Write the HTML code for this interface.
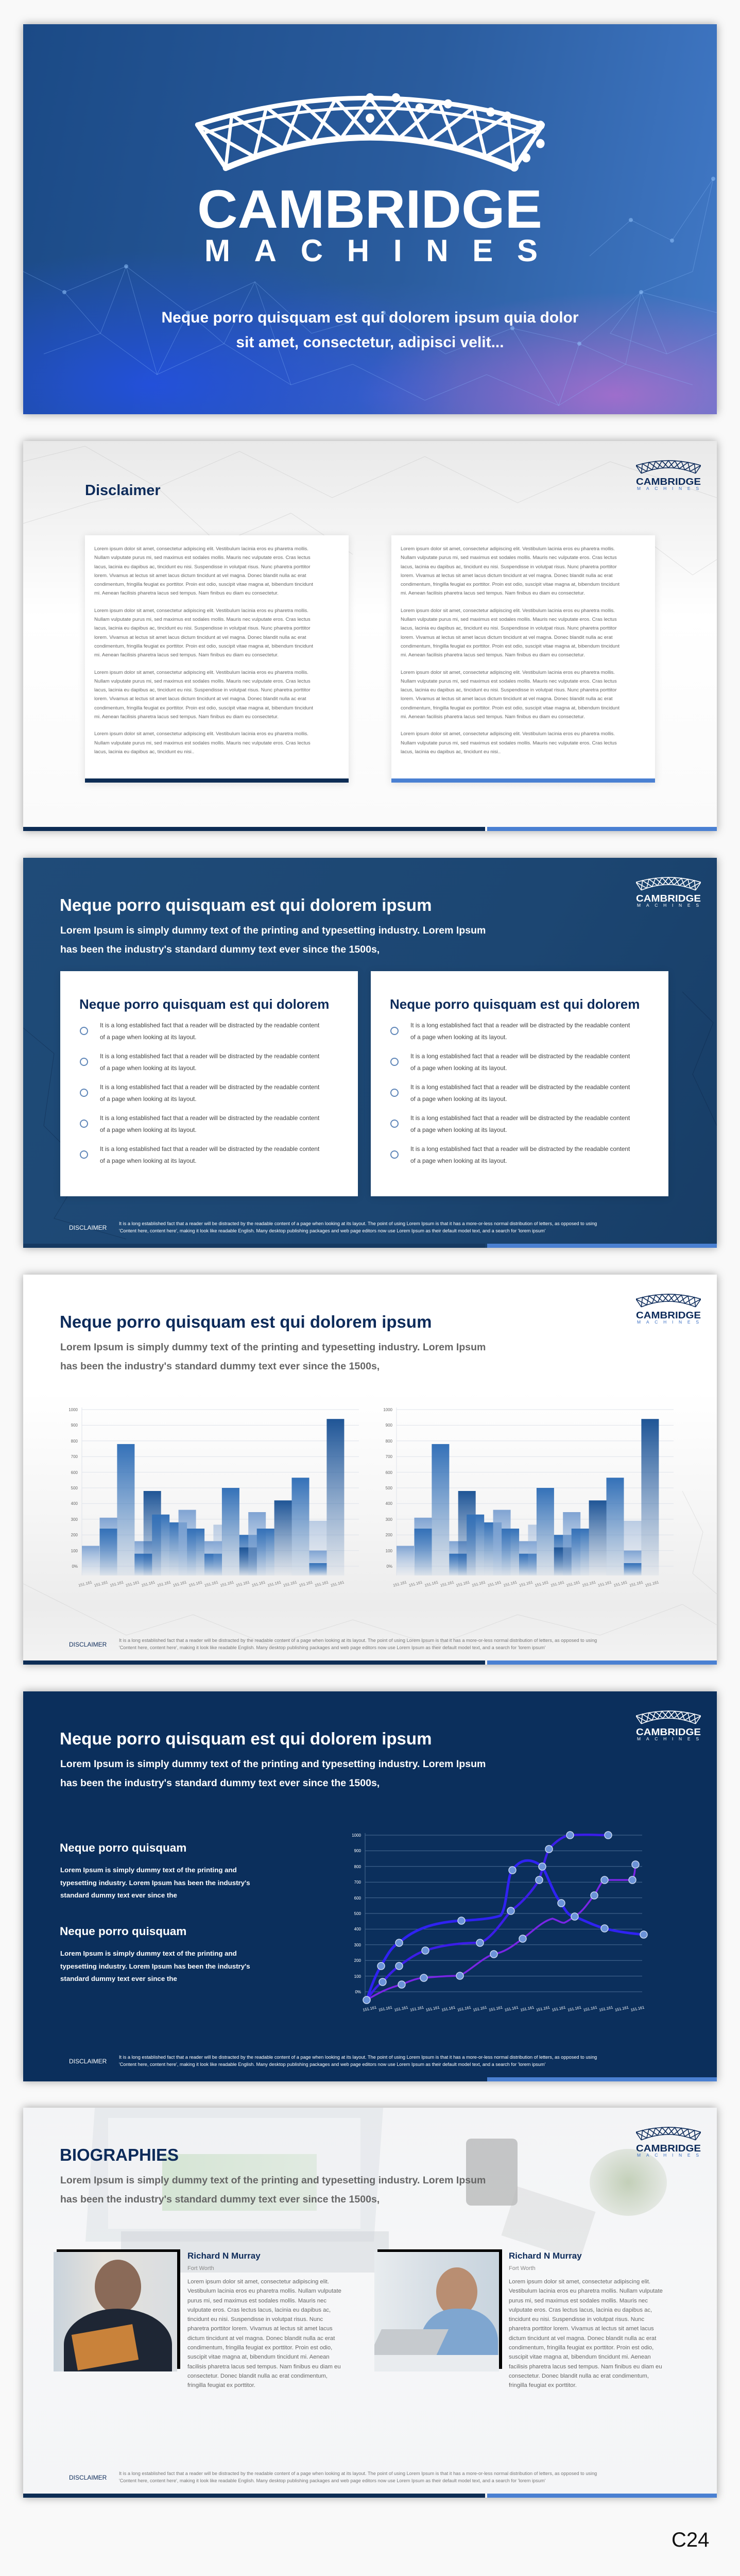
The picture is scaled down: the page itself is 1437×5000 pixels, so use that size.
<!DOCTYPE html>
<html><head><meta charset="utf-8">
<style>
*{margin:0;padding:0;box-sizing:border-box}
body{width:1437px;height:5000px;background:#f9f9f9;position:relative;font-family:"Liberation Sans",sans-serif;overflow:hidden}
.s{position:absolute;left:45px;width:1347px;height:757px;overflow:hidden;box-shadow:0 0 16px rgba(0,0,0,.35)}
.abs{position:absolute}
.nw{white-space:nowrap}
.title{position:absolute;left:71px;top:73px;font-size:33px;font-weight:bold;white-space:nowrap}
.sub{position:absolute;left:72px;top:123px;font-size:19.5px;font-weight:bold;line-height:37px;white-space:nowrap}
.disc{position:absolute;left:89px;top:711px;font-size:12px}
.disct{position:absolute;left:186px;top:703px;font-size:9.2px;line-height:14px;white-space:nowrap}
.bar1{position:absolute;left:0;top:749px;width:897px;height:8px;background:#0d2d55}
.bar2{position:absolute;left:901px;top:749px;width:446px;height:8px;background:#4a80d2}
.logo{position:absolute;left:1190px;top:34px;width:126px;height:66px}
.card{position:absolute;background:#fff;box-shadow:0 2px 14px rgba(0,0,0,.12)}
.p{font-size:9.6px;line-height:17.3px;color:#666;white-space:nowrap}
.bl{position:absolute;left:77px;font-size:11.8px;line-height:23px;color:#444;white-space:nowrap}
.circ{position:absolute;left:38px;width:16px;height:16px;border:2px solid #5f86b8;border-radius:50%}
.bio{position:absolute;font-size:11.3px;line-height:18.3px;color:#666;white-space:nowrap}
</style></head><body>

<!-- SLIDE 1 -->
<div class="s" style="top:47px;background:linear-gradient(100deg,#1b4a86 0%,#2a5c9e 55%,#4179c7 100%)">
 <div class="abs" style="left:0;top:0;width:1347px;height:757px;background:radial-gradient(ellipse 600px 260px at 250px 700px,rgba(35,80,230,.85),rgba(35,80,230,0)),radial-gradient(ellipse 500px 200px at 1150px 720px,rgba(200,110,210,.7),rgba(200,110,210,0)),radial-gradient(ellipse 500px 220px at 700px 720px,rgba(70,100,220,.6),rgba(70,100,220,0))"></div>
 <svg class="abs" style="left:0;top:0" width="1347" height="757">
  <g stroke="rgba(140,190,255,.35)" stroke-width="1" fill="none">
   <polyline points="0,480 80,520 200,470 320,560 450,500 560,600 700,560 820,640 950,590 1080,620 1200,520 1347,560"/>
   <polyline points="40,640 150,600 260,680 390,620 520,700 640,660 780,730 900,680 1040,740 1170,660 1300,700"/>
   <polyline points="1100,450 1180,380 1260,420 1340,300 1300,480 1200,520 1140,600 1250,640 1347,600"/>
   <polyline points="80,520 150,600 200,470 260,680 320,560 390,620 450,500 520,700"/>
   <polyline points="950,590 1040,740 1080,620 1170,660 1200,520 1250,640"/>
  </g>
  <g fill="rgba(150,200,255,.5)"><circle cx="80" cy="520" r="4"/><circle cx="200" cy="470" r="4"/><circle cx="320" cy="560" r="4"/><circle cx="1180" cy="380" r="4"/><circle cx="1260" cy="420" r="4"/><circle cx="1340" cy="300" r="4"/><circle cx="1200" cy="520" r="4"/><circle cx="950" cy="590" r="4"/><circle cx="1080" cy="620" r="4"/><circle cx="700" cy="560" r="4"/></g>
  <g transform="translate(338,121) scale(0.919,0.988)" stroke="#fff" stroke-width="9" fill="none" stroke-linejoin="round" stroke-linecap="round">
   <path d="M0,75 Q365,-30 730,75"/><path d="M12,92 Q365,-8 718,92" stroke-width="6"/><path d="M60,160 Q365,40 670,160" stroke-width="12"/>
   <path d="M0,75 L60,160 M730,75 L670,160"/>
   <polyline points="60,160 73,56 182,122 219,31 304,102 365,22.5 426,102 511,31 548,122 657,56 670,160" stroke-width="7"/>
   <polyline points="0,75 121,138 146,41 243,110 292,25 365,100 438,25 487,110 584,41 609,138 730,75" stroke-width="7"/>
   <g fill="#fff" stroke="none"><circle cx="365" cy="22" r="9"/><circle cx="420" cy="22" r="9"/><circle cx="365" cy="62" r="9"/><circle cx="470" cy="42" r="9"/><circle cx="530" cy="34" r="9"/><circle cx="620" cy="50" r="9"/><circle cx="655" cy="58" r="9"/><circle cx="725" cy="76" r="9"/><circle cx="725" cy="112" r="9"/><circle cx="695" cy="140" r="9"/><circle cx="670" cy="158" r="9"/></g>
  </g>
  <text x="338" y="395" fill="#fff" font-family="Liberation Sans" font-weight="bold" font-size="105" textLength="670" lengthAdjust="spacingAndGlyphs">CAMBRIDGE</text>
  <text x="352" y="460" fill="#fff" font-family="Liberation Sans" font-weight="bold" font-size="60" textLength="647" lengthAdjust="spacing">MACHINES</text>
 </svg>
 <div class="abs" style="left:0;width:1347px;top:546px;text-align:center;color:#fff;font-size:30px;font-weight:bold;line-height:48px">Neque porro quisquam est qui dolorem ipsum quia dolor<br>sit amet, consectetur, adipisci velit...</div>
</div>

<!-- SLIDE 2 -->
<div class="s" style="top:856px;background:linear-gradient(#e9e9e9 0%,#f5f5f5 25%,#fff 45%,#fafafa 100%)">
 <svg class="abs" style="left:0;top:0" width="1347" height="757"><g stroke="rgba(180,180,180,.35)" fill="none"><polyline points="0,40 120,10 260,90 420,20 600,110 780,30 960,120 1140,40 1347,110"/><polyline points="0,160 130,120 260,90 380,200 520,140 640,220"/><polyline points="1220,200 1300,260 1347,230"/></g></svg>
 <div class="abs nw" style="left:120px;top:80px;font-size:29px;font-weight:bold;color:#0d2b5a">Disclaimer</div>
 <svg class="logo" viewBox="0 0 126 66"><g transform="scale(0.1726,0.18)" stroke="#0d2b5a" stroke-width="9" fill="none"><path d="M0,75 Q365,-30 730,75"/><path d="M60,160 Q365,40 670,160"/><path d="M0,75 L60,160 M730,75 L670,160"/><polyline points="60,160 73,56 182,122 219,31 304,102 365,22.5 426,102 511,31 548,122 657,56 670,160"/><polyline points="0,75 121,138 146,41 243,110 292,25 365,100 438,25 487,110 584,41 609,138 730,75"/></g><text x="0" y="51" fill="#0d2b5a" font-family="Liberation Sans" font-weight="bold" font-size="18" textLength="126" lengthAdjust="spacingAndGlyphs">CAMBRIDGE</text><text x="2" y="61" fill="#3a6fc4" font-family="Liberation Sans" font-size="8.5" textLength="120" lengthAdjust="spacing">MACHINES</text></svg>
 <div class="card" style="left:120px;top:183px;width:512px;height:480px">
  <div class="abs" style="left:18px;top:18px">
   <div class="p">Lorem ipsum dolor sit amet, consectetur adipiscing elit. Vestibulum lacinia eros eu pharetra mollis.<br>Nullam vulputate purus mi, sed maximus est sodales mollis. Mauris nec vulputate eros. Cras lectus<br>lacus, lacinia eu dapibus ac, tincidunt eu nisi. Suspendisse in volutpat risus. Nunc pharetra porttitor<br>lorem. Vivamus at lectus sit amet lacus dictum tincidunt at vel magna. Donec blandit nulla ac erat<br>condimentum, fringilla feugiat ex porttitor. Proin est odio, suscipit vitae magna at, bibendum tincidunt<br>mi. Aenean facilisis pharetra lacus sed tempus. Nam finibus eu diam eu consectetur.</div>
   <div class="p" style="margin-top:16px">Lorem ipsum dolor sit amet, consectetur adipiscing elit. Vestibulum lacinia eros eu pharetra mollis.<br>Nullam vulputate purus mi, sed maximus est sodales mollis. Mauris nec vulputate eros. Cras lectus<br>lacus, lacinia eu dapibus ac, tincidunt eu nisi. Suspendisse in volutpat risus. Nunc pharetra porttitor<br>lorem. Vivamus at lectus sit amet lacus dictum tincidunt at vel magna. Donec blandit nulla ac erat<br>condimentum, fringilla feugiat ex porttitor. Proin est odio, suscipit vitae magna at, bibendum tincidunt<br>mi. Aenean facilisis pharetra lacus sed tempus. Nam finibus eu diam eu consectetur.</div>
   <div class="p" style="margin-top:16px">Lorem ipsum dolor sit amet, consectetur adipiscing elit. Vestibulum lacinia eros eu pharetra mollis.<br>Nullam vulputate purus mi, sed maximus est sodales mollis. Mauris nec vulputate eros. Cras lectus<br>lacus, lacinia eu dapibus ac, tincidunt eu nisi. Suspendisse in volutpat risus. Nunc pharetra porttitor<br>lorem. Vivamus at lectus sit amet lacus dictum tincidunt at vel magna. Donec blandit nulla ac erat<br>condimentum, fringilla feugiat ex porttitor. Proin est odio, suscipit vitae magna at, bibendum tincidunt<br>mi. Aenean facilisis pharetra lacus sed tempus. Nam finibus eu diam eu consectetur.</div>
   <div class="p" style="margin-top:16px">Lorem ipsum dolor sit amet, consectetur adipiscing elit. Vestibulum lacinia eros eu pharetra mollis.<br>Nullam vulputate purus mi, sed maximus est sodales mollis. Mauris nec vulputate eros. Cras lectus<br>lacus, lacinia eu dapibus ac, tincidunt eu nisi..</div>
  </div>
  <div class="abs" style="left:0;bottom:0;width:512px;height:8px;background:#0d2d55"></div>
 </div>
 <div class="card" style="left:715px;top:183px;width:512px;height:480px">
  <div class="abs" style="left:18px;top:18px">
   <div class="p">Lorem ipsum dolor sit amet, consectetur adipiscing elit. Vestibulum lacinia eros eu pharetra mollis.<br>Nullam vulputate purus mi, sed maximus est sodales mollis. Mauris nec vulputate eros. Cras lectus<br>lacus, lacinia eu dapibus ac, tincidunt eu nisi. Suspendisse in volutpat risus. Nunc pharetra porttitor<br>lorem. Vivamus at lectus sit amet lacus dictum tincidunt at vel magna. Donec blandit nulla ac erat<br>condimentum, fringilla feugiat ex porttitor. Proin est odio, suscipit vitae magna at, bibendum tincidunt<br>mi. Aenean facilisis pharetra lacus sed tempus. Nam finibus eu diam eu consectetur.</div>
   <div class="p" style="margin-top:16px">Lorem ipsum dolor sit amet, consectetur adipiscing elit. Vestibulum lacinia eros eu pharetra mollis.<br>Nullam vulputate purus mi, sed maximus est sodales mollis. Mauris nec vulputate eros. Cras lectus<br>lacus, lacinia eu dapibus ac, tincidunt eu nisi. Suspendisse in volutpat risus. Nunc pharetra porttitor<br>lorem. Vivamus at lectus sit amet lacus dictum tincidunt at vel magna. Donec blandit nulla ac erat<br>condimentum, fringilla feugiat ex porttitor. Proin est odio, suscipit vitae magna at, bibendum tincidunt<br>mi. Aenean facilisis pharetra lacus sed tempus. Nam finibus eu diam eu consectetur.</div>
   <div class="p" style="margin-top:16px">Lorem ipsum dolor sit amet, consectetur adipiscing elit. Vestibulum lacinia eros eu pharetra mollis.<br>Nullam vulputate purus mi, sed maximus est sodales mollis. Mauris nec vulputate eros. Cras lectus<br>lacus, lacinia eu dapibus ac, tincidunt eu nisi. Suspendisse in volutpat risus. Nunc pharetra porttitor<br>lorem. Vivamus at lectus sit amet lacus dictum tincidunt at vel magna. Donec blandit nulla ac erat<br>condimentum, fringilla feugiat ex porttitor. Proin est odio, suscipit vitae magna at, bibendum tincidunt<br>mi. Aenean facilisis pharetra lacus sed tempus. Nam finibus eu diam eu consectetur.</div>
   <div class="p" style="margin-top:16px">Lorem ipsum dolor sit amet, consectetur adipiscing elit. Vestibulum lacinia eros eu pharetra mollis.<br>Nullam vulputate purus mi, sed maximus est sodales mollis. Mauris nec vulputate eros. Cras lectus<br>lacus, lacinia eu dapibus ac, tincidunt eu nisi..</div>
  </div>
  <div class="abs" style="left:0;bottom:0;width:512px;height:8px;background:#4a80d2"></div>
 </div>
 <div class="bar1"></div><div class="bar2"></div>
</div>

<!-- SLIDE 3 -->
<div class="s" style="top:1665px;background:linear-gradient(120deg,#1f4b78 0%,#1c4672 60%,#173d66 100%)">
 <svg class="abs" style="left:0;top:0" width="1347" height="757"><g stroke="rgba(10,30,60,.35)" fill="none"><polyline points="0,330 60,380 40,520 120,600 60,700 200,740"/><polyline points="1280,260 1340,320 1300,420 1347,520"/></g></svg>
 <div class="title" style="color:#fff">Neque porro quisquam est qui dolorem ipsum</div>
 <div class="sub" style="color:#fff">Lorem Ipsum is simply dummy text of the printing and typesetting industry. Lorem Ipsum<br>has been the industry's standard dummy text ever since the 1500s,</div>
 <svg class="logo" viewBox="0 0 126 66"><g transform="scale(0.1726,0.18)" stroke="#fff" stroke-width="9" fill="none"><path d="M0,75 Q365,-30 730,75"/><path d="M60,160 Q365,40 670,160"/><path d="M0,75 L60,160 M730,75 L670,160"/><polyline points="60,160 73,56 182,122 219,31 304,102 365,22.5 426,102 511,31 548,122 657,56 670,160"/><polyline points="0,75 121,138 146,41 243,110 292,25 365,100 438,25 487,110 584,41 609,138 730,75"/></g><text x="0" y="51" fill="#fff" font-family="Liberation Sans" font-weight="bold" font-size="18" textLength="126" lengthAdjust="spacingAndGlyphs">CAMBRIDGE</text><text x="2" y="61" fill="#fff" font-family="Liberation Sans" font-size="8.5" textLength="120" lengthAdjust="spacing">MACHINES</text></svg>
 <div class="card" style="left:72px;top:220px;width:578px;height:437px">
  <div class="abs nw" style="left:37px;top:49px;font-size:26px;font-weight:bold;color:#0d2b5a">Neque porro quisquam est qui dolorem</div>
  <div class="circ" style="top:108px"></div><div class="bl" style="top:94px">It is a long established fact that a reader will be distracted by the readable content<br>of a page when looking at its layout.</div>
  <div class="circ" style="top:168px"></div><div class="bl" style="top:154px">It is a long established fact that a reader will be distracted by the readable content<br>of a page when looking at its layout.</div>
  <div class="circ" style="top:228px"></div><div class="bl" style="top:214px">It is a long established fact that a reader will be distracted by the readable content<br>of a page when looking at its layout.</div>
  <div class="circ" style="top:288px"></div><div class="bl" style="top:274px">It is a long established fact that a reader will be distracted by the readable content<br>of a page when looking at its layout.</div>
  <div class="circ" style="top:348px"></div><div class="bl" style="top:334px">It is a long established fact that a reader will be distracted by the readable content<br>of a page when looking at its layout.</div>
 </div>
 <div class="card" style="left:675px;top:220px;width:578px;height:437px">
  <div class="abs nw" style="left:37px;top:49px;font-size:26px;font-weight:bold;color:#0d2b5a">Neque porro quisquam est qui dolorem</div>
  <div class="circ" style="top:108px"></div><div class="bl" style="top:94px">It is a long established fact that a reader will be distracted by the readable content<br>of a page when looking at its layout.</div>
  <div class="circ" style="top:168px"></div><div class="bl" style="top:154px">It is a long established fact that a reader will be distracted by the readable content<br>of a page when looking at its layout.</div>
  <div class="circ" style="top:228px"></div><div class="bl" style="top:214px">It is a long established fact that a reader will be distracted by the readable content<br>of a page when looking at its layout.</div>
  <div class="circ" style="top:288px"></div><div class="bl" style="top:274px">It is a long established fact that a reader will be distracted by the readable content<br>of a page when looking at its layout.</div>
  <div class="circ" style="top:348px"></div><div class="bl" style="top:334px">It is a long established fact that a reader will be distracted by the readable content<br>of a page when looking at its layout.</div>
 </div>
 <div class="disc" style="color:#fff">DISCLAIMER</div>
 <div class="disct" style="color:#fff">It is a long established fact that a reader will be distracted by the readable content of a page when looking at its layout. The point of using Lorem Ipsum is that it has a more-or-less normal distribution of letters, as opposed to using<br>'Content here, content here', making it look like readable English. Many desktop publishing packages and web page editors now use Lorem Ipsum as their default model text, and a search for 'lorem ipsum'</div>
 <div class="bar1" style="background:#163a62"></div><div class="bar2"></div>
</div>

<!-- SLIDE 4 -->
<div class="s" style="top:2474px;background:linear-gradient(#fff 0%,#fff 30%,#f6f6f6 60%,#ececec 85%,#f3f3f3 100%)">
 <div class="title" style="color:#0d2b5a">Neque porro quisquam est qui dolorem ipsum</div>
 <div class="sub" style="color:#666">Lorem Ipsum is simply dummy text of the printing and typesetting industry. Lorem Ipsum<br>has been the industry's standard dummy text ever since the 1500s,</div>
 <svg class="logo" viewBox="0 0 126 66"><g transform="scale(0.1726,0.18)" stroke="#0d2b5a" stroke-width="9" fill="none"><path d="M0,75 Q365,-30 730,75"/><path d="M60,160 Q365,40 670,160"/><path d="M0,75 L60,160 M730,75 L670,160"/><polyline points="60,160 73,56 182,122 219,31 304,102 365,22.5 426,102 511,31 548,122 657,56 670,160"/><polyline points="0,75 121,138 146,41 243,110 292,25 365,100 438,25 487,110 584,41 609,138 730,75"/></g><text x="0" y="51" fill="#0d2b5a" font-family="Liberation Sans" font-weight="bold" font-size="18" textLength="126" lengthAdjust="spacingAndGlyphs">CAMBRIDGE</text><text x="2" y="61" fill="#3a6fc4" font-family="Liberation Sans" font-size="8.5" textLength="120" lengthAdjust="spacing">MACHINES</text></svg>
 <svg class="abs" style="left:0;top:0" width="1347" height="757" font-family="Liberation Sans">
  <defs>
   <linearGradient id="gd" x1="0" y1="0" x2="0" y2="1"><stop offset="0" stop-color="#1f5596"/><stop offset="1" stop-color="#2a62a8" stop-opacity="0.05"/></linearGradient>
   <linearGradient id="gm" x1="0" y1="0" x2="0" y2="1"><stop offset="0" stop-color="#3471b8"/><stop offset="1" stop-color="#3471b8" stop-opacity="0.08"/></linearGradient>
   <linearGradient id="gl" x1="0" y1="0" x2="0" y2="1"><stop offset="0" stop-color="#7fa3d2"/><stop offset="1" stop-color="#a8c2e4" stop-opacity="0.08"/></linearGradient>
  </defs>
  <g stroke="rgba(190,190,190,.35)" fill="none"><polyline points="0,600 80,640 200,700 330,660 480,720 640,670 800,720 960,660 1120,700 1280,640 1347,680"/><polyline points="1280,420 1320,500 1300,580 1347,620"/></g>
  <g>
   <g stroke="#dfe3ea" stroke-width="1"><line x1="114" x2="652" y1="262" y2="262"/><line x1="114" x2="652" y1="292.4" y2="292.4"/><line x1="114" x2="652" y1="322.8" y2="322.8"/><line x1="114" x2="652" y1="353.2" y2="353.2"/><line x1="114" x2="652" y1="383.6" y2="383.6"/><line x1="114" x2="652" y1="414" y2="414"/><line x1="114" x2="652" y1="444.4" y2="444.4"/><line x1="114" x2="652" y1="474.8" y2="474.8"/><line x1="114" x2="652" y1="505.2" y2="505.2"/><line x1="114" x2="652" y1="535.6" y2="535.6"/><line x1="114" x2="652" y1="566" y2="566"/><line x1="114" x2="114" y1="258" y2="584"/></g>
   <g font-size="8" fill="#666" text-anchor="end"><text x="106" y="265">1000</text><text x="106" y="295">900</text><text x="106" y="326">800</text><text x="106" y="356">700</text><text x="106" y="387">600</text><text x="106" y="417">500</text><text x="106" y="447">400</text><text x="106" y="478">300</text><text x="106" y="508">200</text><text x="106" y="539">100</text><text x="106" y="569">0%</text></g>
   <rect x="114" y="526.5" width="34" height="57.5" fill="url(#gl)"/>
   <rect x="148.5" y="471.8" width="34" height="112.2" fill="url(#gl)"/>
   <rect x="148.5" y="493" width="34" height="91" fill="url(#gm)"/>
   <rect x="182.4" y="328.9" width="34" height="255.1" fill="url(#gm)"/>
   <rect x="216.3" y="517.4" width="34" height="66.6" fill="url(#gl)"/>
   <rect x="216.3" y="541.7" width="34" height="42.3" fill="url(#gm)"/>
   <rect x="233.7" y="420" width="34" height="164" fill="url(#gd)"/>
   <rect x="250.2" y="465.7" width="34" height="118.3" fill="url(#gm)"/>
   <rect x="284.1" y="480.9" width="34" height="103.1" fill="url(#gm)"/>
   <rect x="301.6" y="456.6" width="34" height="127.4" fill="url(#gl)"/>
   <rect x="318.1" y="493" width="34" height="91" fill="url(#gm)"/>
   <rect x="352" y="517.4" width="34" height="66.6" fill="url(#gl)"/>
   <rect x="352" y="541.7" width="34" height="42.3" fill="url(#gm)"/>
   <rect x="369.4" y="485.4" width="17" height="98.6" fill="url(#gl)" opacity=".5"/>
   <rect x="385.9" y="414" width="34" height="170" fill="url(#gm)"/>
   <rect x="419.8" y="505.2" width="34" height="78.8" fill="url(#gm)"/>
   <rect x="419.8" y="529.5" width="34" height="54.5" fill="url(#gd)"/>
   <rect x="437.2" y="461" width="34" height="123" fill="url(#gl)"/>
   <rect x="453.7" y="493" width="34" height="91" fill="url(#gm)"/>
   <rect x="487.6" y="438.3" width="34" height="145.7" fill="url(#gd)"/>
   <rect x="521.5" y="394.2" width="34" height="189.8" fill="url(#gm)"/>
   <rect x="555.5" y="477.8" width="34" height="106.2" fill="url(#gl)" opacity=".5"/>
   <rect x="555.5" y="535.6" width="34" height="48.4" fill="url(#gl)"/>
   <rect x="555.5" y="560" width="34" height="24" fill="url(#gm)"/>
   <rect x="589.4" y="280.2" width="34" height="303.8" fill="url(#gd)"/>
   <g font-size="7.5" fill="#777">
    <text transform="translate(108,606) rotate(-15)">151.161</text><text transform="translate(138.6,606) rotate(-15)">151.161</text><text transform="translate(169.2,606) rotate(-15)">151.161</text><text transform="translate(199.8,606) rotate(-15)">151.161</text><text transform="translate(230.4,606) rotate(-15)">151.161</text><text transform="translate(261,606) rotate(-15)">151.161</text><text transform="translate(291.6,606) rotate(-15)">151.161</text><text transform="translate(322.2,606) rotate(-15)">151.161</text><text transform="translate(352.8,606) rotate(-15)">151.161</text><text transform="translate(383.4,606) rotate(-15)">151.161</text><text transform="translate(414,606) rotate(-15)">151.161</text><text transform="translate(444.6,606) rotate(-15)">151.161</text><text transform="translate(475.2,606) rotate(-15)">151.161</text><text transform="translate(505.8,606) rotate(-15)">151.161</text><text transform="translate(536.4,606) rotate(-15)">151.161</text><text transform="translate(567,606) rotate(-15)">151.161</text><text transform="translate(597.6,606) rotate(-15)">151.161</text>
   </g>
  </g>
  <g transform="translate(611,0)">
   <g stroke="#dfe3ea" stroke-width="1"><line x1="114" x2="652" y1="262" y2="262"/><line x1="114" x2="652" y1="292.4" y2="292.4"/><line x1="114" x2="652" y1="322.8" y2="322.8"/><line x1="114" x2="652" y1="353.2" y2="353.2"/><line x1="114" x2="652" y1="383.6" y2="383.6"/><line x1="114" x2="652" y1="414" y2="414"/><line x1="114" x2="652" y1="444.4" y2="444.4"/><line x1="114" x2="652" y1="474.8" y2="474.8"/><line x1="114" x2="652" y1="505.2" y2="505.2"/><line x1="114" x2="652" y1="535.6" y2="535.6"/><line x1="114" x2="652" y1="566" y2="566"/><line x1="114" x2="114" y1="258" y2="584"/></g>
   <g font-size="8" fill="#666" text-anchor="end"><text x="106" y="265">1000</text><text x="106" y="295">900</text><text x="106" y="326">800</text><text x="106" y="356">700</text><text x="106" y="387">600</text><text x="106" y="417">500</text><text x="106" y="447">400</text><text x="106" y="478">300</text><text x="106" y="508">200</text><text x="106" y="539">100</text><text x="106" y="569">0%</text></g>
   <rect x="114" y="526.5" width="34" height="57.5" fill="url(#gl)"/>
   <rect x="148.5" y="471.8" width="34" height="112.2" fill="url(#gl)"/>
   <rect x="148.5" y="493" width="34" height="91" fill="url(#gm)"/>
   <rect x="182.4" y="328.9" width="34" height="255.1" fill="url(#gm)"/>
   <rect x="216.3" y="517.4" width="34" height="66.6" fill="url(#gl)"/>
   <rect x="216.3" y="541.7" width="34" height="42.3" fill="url(#gm)"/>
   <rect x="233.7" y="420" width="34" height="164" fill="url(#gd)"/>
   <rect x="250.2" y="465.7" width="34" height="118.3" fill="url(#gm)"/>
   <rect x="284.1" y="480.9" width="34" height="103.1" fill="url(#gm)"/>
   <rect x="301.6" y="456.6" width="34" height="127.4" fill="url(#gl)"/>
   <rect x="318.1" y="493" width="34" height="91" fill="url(#gm)"/>
   <rect x="352" y="517.4" width="34" height="66.6" fill="url(#gl)"/>
   <rect x="352" y="541.7" width="34" height="42.3" fill="url(#gm)"/>
   <rect x="369.4" y="485.4" width="17" height="98.6" fill="url(#gl)" opacity=".5"/>
   <rect x="385.9" y="414" width="34" height="170" fill="url(#gm)"/>
   <rect x="419.8" y="505.2" width="34" height="78.8" fill="url(#gm)"/>
   <rect x="419.8" y="529.5" width="34" height="54.5" fill="url(#gd)"/>
   <rect x="437.2" y="461" width="34" height="123" fill="url(#gl)"/>
   <rect x="453.7" y="493" width="34" height="91" fill="url(#gm)"/>
   <rect x="487.6" y="438.3" width="34" height="145.7" fill="url(#gd)"/>
   <rect x="521.5" y="394.2" width="34" height="189.8" fill="url(#gm)"/>
   <rect x="555.5" y="477.8" width="34" height="106.2" fill="url(#gl)" opacity=".5"/>
   <rect x="555.5" y="535.6" width="34" height="48.4" fill="url(#gl)"/>
   <rect x="555.5" y="560" width="34" height="24" fill="url(#gm)"/>
   <rect x="589.4" y="280.2" width="34" height="303.8" fill="url(#gd)"/>
   <g font-size="7.5" fill="#777">
    <text transform="translate(108,606) rotate(-15)">151.161</text><text transform="translate(138.6,606) rotate(-15)">151.161</text><text transform="translate(169.2,606) rotate(-15)">151.161</text><text transform="translate(199.8,606) rotate(-15)">151.161</text><text transform="translate(230.4,606) rotate(-15)">151.161</text><text transform="translate(261,606) rotate(-15)">151.161</text><text transform="translate(291.6,606) rotate(-15)">151.161</text><text transform="translate(322.2,606) rotate(-15)">151.161</text><text transform="translate(352.8,606) rotate(-15)">151.161</text><text transform="translate(383.4,606) rotate(-15)">151.161</text><text transform="translate(414,606) rotate(-15)">151.161</text><text transform="translate(444.6,606) rotate(-15)">151.161</text><text transform="translate(475.2,606) rotate(-15)">151.161</text><text transform="translate(505.8,606) rotate(-15)">151.161</text><text transform="translate(536.4,606) rotate(-15)">151.161</text><text transform="translate(567,606) rotate(-15)">151.161</text><text transform="translate(597.6,606) rotate(-15)">151.161</text>
   </g>
  </g>
 </svg>
 <div class="disc" style="color:#0d2b5a">DISCLAIMER</div>
 <div class="disct" style="color:#777">It is a long established fact that a reader will be distracted by the readable content of a page when looking at its layout. The point of using Lorem Ipsum is that it has a more-or-less normal distribution of letters, as opposed to using<br>'Content here, content here', making it look like readable English. Many desktop publishing packages and web page editors now use Lorem Ipsum as their default model text, and a search for 'lorem ipsum'</div>
 <div class="bar1"></div><div class="bar2"></div>
</div>

<!-- SLIDE 5 -->
<div class="s" style="top:3283px;background:#0b2f5c">
 <div class="title" style="color:#fff">Neque porro quisquam est qui dolorem ipsum</div>
 <div class="sub" style="color:#fff">Lorem Ipsum is simply dummy text of the printing and typesetting industry. Lorem Ipsum<br>has been the industry's standard dummy text ever since the 1500s,</div>
 <svg class="logo" viewBox="0 0 126 66"><g transform="scale(0.1726,0.18)" stroke="#fff" stroke-width="9" fill="none"><path d="M0,75 Q365,-30 730,75"/><path d="M60,160 Q365,40 670,160"/><path d="M0,75 L60,160 M730,75 L670,160"/><polyline points="60,160 73,56 182,122 219,31 304,102 365,22.5 426,102 511,31 548,122 657,56 670,160"/><polyline points="0,75 121,138 146,41 243,110 292,25 365,100 438,25 487,110 584,41 609,138 730,75"/></g><text x="0" y="51" fill="#fff" font-family="Liberation Sans" font-weight="bold" font-size="18" textLength="126" lengthAdjust="spacingAndGlyphs">CAMBRIDGE</text><text x="2" y="61" fill="#fff" font-family="Liberation Sans" font-size="8.5" textLength="120" lengthAdjust="spacing">MACHINES</text></svg>
 <div class="abs nw" style="left:71px;top:291px;font-size:22.5px;font-weight:bold;color:#fff">Neque porro quisquam</div>
 <div class="abs nw" style="left:72px;top:335px;font-size:13.3px;font-weight:bold;line-height:24.5px;color:#fff">Lorem Ipsum is simply dummy text of the printing and<br>typesetting industry. Lorem Ipsum has been the industry's<br>standard dummy text ever since the</div>
 <div class="abs nw" style="left:71px;top:453px;font-size:22.5px;font-weight:bold;color:#fff">Neque porro quisquam</div>
 <div class="abs nw" style="left:72px;top:497px;font-size:13.3px;font-weight:bold;line-height:24.5px;color:#fff">Lorem Ipsum is simply dummy text of the printing and<br>typesetting industry. Lorem Ipsum has been the industry's<br>standard dummy text ever since the</div>
 <svg class="abs" style="left:0;top:0" width="1347" height="757" font-family="Liberation Sans">
  <g stroke="#4b6e95" stroke-width="1"><line x1="664" x2="1202" y1="279" y2="279"/><line x1="664" x2="1202" y1="309.4" y2="309.4"/><line x1="664" x2="1202" y1="339.8" y2="339.8"/><line x1="664" x2="1202" y1="370.2" y2="370.2"/><line x1="664" x2="1202" y1="400.6" y2="400.6"/><line x1="664" x2="1202" y1="431" y2="431"/><line x1="664" x2="1202" y1="461.4" y2="461.4"/><line x1="664" x2="1202" y1="491.8" y2="491.8"/><line x1="664" x2="1202" y1="522.2" y2="522.2"/><line x1="664" x2="1202" y1="552.6" y2="552.6"/><line x1="664" x2="1202" y1="583" y2="583"/><line x1="664" x2="664" y1="275" y2="600"/></g>
  <g font-size="8" fill="#fff" text-anchor="end"><text x="656" y="282">1000</text><text x="656" y="312">900</text><text x="656" y="343">800</text><text x="656" y="373">700</text><text x="656" y="404">600</text><text x="656" y="434">500</text><text x="656" y="464">400</text><text x="656" y="495">300</text><text x="656" y="525">200</text><text x="656" y="556">100</text><text x="656" y="586">0%</text></g>
  <g font-size="7.5" fill="#fff">
   <text transform="translate(660,621) rotate(-12)">151.161</text><text transform="translate(690.6,621) rotate(-12)">151.161</text><text transform="translate(721.2,621) rotate(-12)">151.161</text><text transform="translate(751.8,621) rotate(-12)">151.161</text><text transform="translate(782.4,621) rotate(-12)">151.161</text><text transform="translate(813,621) rotate(-12)">151.161</text><text transform="translate(843.6,621) rotate(-12)">151.161</text><text transform="translate(874.2,621) rotate(-12)">151.161</text><text transform="translate(904.8,621) rotate(-12)">151.161</text><text transform="translate(935.4,621) rotate(-12)">151.161</text><text transform="translate(966,621) rotate(-12)">151.161</text><text transform="translate(996.6,621) rotate(-12)">151.161</text><text transform="translate(1027.2,621) rotate(-12)">151.161</text><text transform="translate(1057.8,621) rotate(-12)">151.161</text><text transform="translate(1088.4,621) rotate(-12)">151.161</text><text transform="translate(1119,621) rotate(-12)">151.161</text><text transform="translate(1149.6,621) rotate(-12)">151.161</text><text transform="translate(1180.2,621) rotate(-12)">151.161</text>
  </g>
  <g fill="none" stroke-linejoin="round" stroke-linecap="round">
   <path d="M667,599 C680,560 690,540 695,533 C705,515 715,495 730,488 C760,460 800,448 851,445 C890,443 915,440 927,435 C940,420 940,355 950,347 C965,325 985,322 1008,340 C1020,360 1030,395 1045,411 C1055,430 1062,437 1071,437 C1090,445 1110,455 1129,460 C1160,468 1185,470 1205,472" stroke="#2f22f2" stroke-width="5"/>
   <path d="M667,599 C680,580 690,568 698,564 C710,550 720,540 730,533 C750,518 765,508 781,503 C820,490 860,488 887,488 C910,480 935,440 947,426 C970,410 990,385 1002,366 C1010,340 1015,318 1021,306 C1035,290 1050,280 1062,279 C1090,277 1115,279 1136,279" stroke="#3b1de8" stroke-width="4.5"/>
   <path d="M667,599 C690,585 710,575 735,569 C755,560 770,556 778,556 C810,553 830,552 848,552 C870,540 895,515 914,510 C940,505 955,490 970,480 C990,465 1010,445 1028,441 C1040,445 1045,450 1051,449 C1060,445 1065,440 1071,437 C1090,425 1100,405 1109,396 C1118,380 1122,370 1129,366 C1150,366 1170,366 1183,366 C1188,355 1188,345 1189,336" stroke="#7a25e6" stroke-width="3.5"/>
  </g>
  <g fill="#6b93d8" stroke="#c8d8f2" stroke-width="1.5">
   <circle cx="667" cy="599" r="7"/><circle cx="695" cy="533" r="7"/><circle cx="730" cy="488" r="7"/><circle cx="851" cy="445" r="7"/><circle cx="950" cy="347" r="7"/><circle cx="1008" cy="340" r="7"/><circle cx="1045" cy="411" r="7"/><circle cx="1071" cy="437" r="7"/><circle cx="1129" cy="460" r="7"/><circle cx="1205" cy="472" r="7"/>
   <circle cx="698" cy="564" r="7"/><circle cx="730" cy="533" r="7"/><circle cx="781" cy="503" r="7"/><circle cx="887" cy="488" r="7"/><circle cx="947" cy="426" r="7"/><circle cx="1002" cy="366" r="7"/><circle cx="1021" cy="306" r="7"/><circle cx="1062" cy="279" r="7"/><circle cx="1136" cy="279" r="7"/>
   <circle cx="735" cy="569" r="7"/><circle cx="778" cy="556" r="7"/><circle cx="848" cy="552" r="7"/><circle cx="914" cy="510" r="7"/><circle cx="970" cy="480" r="7"/><circle cx="1109" cy="396" r="7"/><circle cx="1129" cy="366" r="7"/><circle cx="1183" cy="366" r="7"/><circle cx="1189" cy="336" r="7"/>
  </g>
 </svg>
 <div class="disc" style="color:#fff">DISCLAIMER</div>
 <div class="disct" style="color:#fff">It is a long established fact that a reader will be distracted by the readable content of a page when looking at its layout. The point of using Lorem Ipsum is that it has a more-or-less normal distribution of letters, as opposed to using<br>'Content here, content here', making it look like readable English. Many desktop publishing packages and web page editors now use Lorem Ipsum as their default model text, and a search for 'lorem ipsum'</div>
 <div class="bar1" style="background:#0b2f5c"></div><div class="bar2"></div>
</div>

<!-- SLIDE 6 -->
<div class="s" style="top:4091px;background:linear-gradient(#f3f4f6 0%,#f6f7f8 40%,#f4f5f7 100%)">
 <div class="abs" style="left:130px;top:0;width:560px;height:260px;background:#d9dde2;opacity:.45;transform:skewX(-4deg)"></div>
 <div class="abs" style="left:165px;top:20px;width:490px;height:215px;background:#f2f4f5;opacity:.8"></div>
 <div class="abs" style="left:270px;top:90px;width:300px;height:110px;background:linear-gradient(90deg,rgba(150,200,140,.3),rgba(150,200,140,.18))"></div>
 <div class="abs" style="left:190px;top:240px;width:520px;height:80px;background:#c9cdd2;opacity:.4"></div>
 <div class="abs" style="left:860px;top:60px;width:100px;height:130px;background:#555;opacity:.3;border-radius:10px"></div>
 <div class="abs" style="left:940px;top:175px;width:160px;height:100px;background:#bbb;opacity:.25;transform:rotate(18deg)"></div>
 <div class="abs" style="left:1100px;top:80px;width:150px;height:130px;background:radial-gradient(circle,rgba(120,150,90,.4),rgba(200,200,200,.1));border-radius:50%"></div>
 <div class="title" style="color:#0d2b5a">BIOGRAPHIES</div>
 <div class="sub" style="color:#666">Lorem Ipsum is simply dummy text of the printing and typesetting industry. Lorem Ipsum<br>has been the industry's standard dummy text ever since the 1500s,</div>
 <svg class="logo" viewBox="0 0 126 66"><g transform="scale(0.1726,0.18)" stroke="#0d2b5a" stroke-width="9" fill="none"><path d="M0,75 Q365,-30 730,75"/><path d="M60,160 Q365,40 670,160"/><path d="M0,75 L60,160 M730,75 L670,160"/><polyline points="60,160 73,56 182,122 219,31 304,102 365,22.5 426,102 511,31 548,122 657,56 670,160"/><polyline points="0,75 121,138 146,41 243,110 292,25 365,100 438,25 487,110 584,41 609,138 730,75"/></g><text x="0" y="51" fill="#0d2b5a" font-family="Liberation Sans" font-weight="bold" font-size="18" textLength="126" lengthAdjust="spacingAndGlyphs">CAMBRIDGE</text><text x="2" y="61" fill="#3a6fc4" font-family="Liberation Sans" font-size="8.5" textLength="120" lengthAdjust="spacing">MACHINES</text></svg>
 <div class="abs" style="left:65px;top:275px;width:240px;height:232px;background:#000"></div>
 <div class="abs" style="left:59px;top:280px;width:240px;height:232px;background:linear-gradient(90deg,#c9d3dc 0%,#e5e2dc 40%,#d9dde1 100%);overflow:hidden">
  <div class="abs" style="left:80px;top:15px;width:90px;height:105px;border-radius:50%;background:#8a6a58"></div>
  <div class="abs" style="left:20px;top:110px;width:210px;height:140px;border-radius:50% 50% 0 0;background:#1e2634"></div>
  <div class="abs" style="left:40px;top:150px;width:120px;height:70px;background:#c9823a;transform:rotate(-10deg)"></div>
 </div>
 <div class="abs nw" style="left:319px;top:278px;font-size:17px;font-weight:bold;color:#0d2b5a">Richard N Murray</div>
 <div class="abs nw" style="left:319px;top:306px;font-size:11px;color:#888">Fort Worth</div>
 <div class="bio" style="left:319px;top:329px">Lorem ipsum dolor sit amet, consectetur adipiscing elit.<br>Vestibulum lacinia eros eu pharetra mollis. Nullam vulputate<br>purus mi, sed maximus est sodales mollis. Mauris nec<br>vulputate eros. Cras lectus lacus, lacinia eu dapibus ac,<br>tincidunt eu nisi. Suspendisse in volutpat risus. Nunc<br>pharetra porttitor lorem. Vivamus at lectus sit amet lacus<br>dictum tincidunt at vel magna. Donec blandit nulla ac erat<br>condimentum, fringilla feugiat ex porttitor. Proin est odio,<br>suscipit vitae magna at, bibendum tincidunt mi. Aenean<br>facilisis pharetra lacus sed tempus. Nam finibus eu diam eu<br>consectetur. Donec blandit nulla ac erat condimentum,<br>fringilla feugiat ex porttitor.</div>
 <div class="abs" style="left:688px;top:275px;width:242px;height:232px;background:#000"></div>
 <div class="abs" style="left:682px;top:280px;width:242px;height:232px;background:linear-gradient(90deg,#e8ecef 0%,#d5dde4 50%,#c8d4de 100%);overflow:hidden">
  <div class="abs" style="left:120px;top:30px;width:80px;height:95px;border-radius:50%;background:#b98e72"></div>
  <div class="abs" style="left:90px;top:110px;width:150px;height:140px;border-radius:45% 45% 0 0;background:#7fa6d0"></div>
  <div class="abs" style="left:0;top:150px;width:130px;height:60px;background:#c6cace;transform:skewX(-25deg)"></div>
  <div class="abs" style="left:0;top:200px;width:242px;height:32px;background:#e9ecef"></div>
 </div>
 <div class="abs nw" style="left:943px;top:278px;font-size:17px;font-weight:bold;color:#0d2b5a">Richard N Murray</div>
 <div class="abs nw" style="left:943px;top:306px;font-size:11px;color:#888">Fort Worth</div>
 <div class="bio" style="left:943px;top:329px">Lorem ipsum dolor sit amet, consectetur adipiscing elit.<br>Vestibulum lacinia eros eu pharetra mollis. Nullam vulputate<br>purus mi, sed maximus est sodales mollis. Mauris nec<br>vulputate eros. Cras lectus lacus, lacinia eu dapibus ac,<br>tincidunt eu nisi. Suspendisse in volutpat risus. Nunc<br>pharetra porttitor lorem. Vivamus at lectus sit amet lacus<br>dictum tincidunt at vel magna. Donec blandit nulla ac erat<br>condimentum, fringilla feugiat ex porttitor. Proin est odio,<br>suscipit vitae magna at, bibendum tincidunt mi. Aenean<br>facilisis pharetra lacus sed tempus. Nam finibus eu diam eu<br>consectetur. Donec blandit nulla ac erat condimentum,<br>fringilla feugiat ex porttitor.</div>
 <div class="disc" style="color:#0d2b5a">DISCLAIMER</div>
 <div class="disct" style="color:#777">It is a long established fact that a reader will be distracted by the readable content of a page when looking at its layout. The point of using Lorem Ipsum is that it has a more-or-less normal distribution of letters, as opposed to using<br>'Content here, content here', making it look like readable English. Many desktop publishing packages and web page editors now use Lorem Ipsum as their default model text, and a search for 'lorem ipsum'</div>
 <div class="bar1"></div><div class="bar2"></div>
</div>

<div class="abs nw" style="left:1304px;top:4908px;font-size:40px;color:#111">C24</div>
</body></html>
